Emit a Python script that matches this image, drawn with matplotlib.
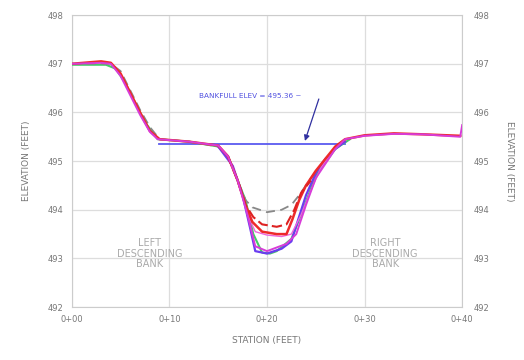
import matplotlib.pyplot as plt

# cross-section surveys (station ft, elevation ft)
magSta = [0, 3, 4, 5, 6, 7, 8, 8.8, 12, 15, 16, 17, 18, 18.8, 20, 22, 23, 24, 25, 26, 27, 28, 30, 33, 36, 39.8, 40]
magEl = [497.0, 497.02, 497.0, 496.75, 496.35, 495.95, 495.6, 495.45, 495.4, 495.32, 495.1, 494.6, 493.9, 493.25,
         493.15, 493.3, 493.5, 494.1, 494.65, 494.95, 495.25, 495.45, 495.52, 495.56, 495.55, 495.5, 495.74]

purSta = [15, 16.5, 17.5, 18.3, 18.8, 20, 21.5, 22.5, 23.2, 24, 25, 26, 27, 28]
purEl = [495.3, 494.9, 494.3, 493.6, 493.15, 493.1, 493.2, 493.35, 493.8, 494.3, 494.75, 495.05, 495.25, 495.4]

redSta = [0, 3, 4, 5, 6, 7, 8, 9, 12, 15, 16, 17, 17.8, 18.5, 19.5, 21, 22, 22.6, 23.3, 24, 25, 26, 27, 28, 30, 33, 36, 39.8]
redEl = [497.0, 497.05, 497.02, 496.8, 496.4, 496.0, 495.62, 495.45, 495.4, 495.32, 495.1, 494.6, 494.1, 493.75,
         493.55, 493.5, 493.5, 493.8, 494.2, 494.5, 494.8, 495.05, 495.3, 495.45, 495.53, 495.57, 495.55, 495.52]

redDashSta = [16, 17, 17.8, 18.6, 19.5, 21, 22, 22.8, 23.5, 24.5]
redDashEl = [495.1, 494.6, 494.1, 493.85, 493.7, 493.65, 493.7, 494.0, 494.35, 494.6]

grySta = [0, 4, 5, 6, 7, 8, 9, 12, 15, 16, 17, 17.8, 18.5, 20, 21.5, 22.5, 23.3, 24.5, 26]
gryEl = [497.0, 497.0, 496.85, 496.45, 496.05, 495.7, 495.45, 495.4, 495.3, 495.1, 494.6, 494.2, 494.05,
         493.95, 494.0, 494.1, 494.3, 494.65, 495.0]

grnSta = [0, 3.5, 4.5, 5.5, 6.5, 7.5, 8.8, 12, 15, 16, 17, 17.8, 18.6, 19.5, 20.3, 21, 22.5, 23.5, 25, 27, 28.5]
grnEl = [496.98, 496.98, 496.9, 496.6, 496.2, 495.8, 495.45, 495.4, 495.3, 495.1, 494.6, 494.2, 493.5,
         493.12, 493.1, 493.15, 493.4, 493.9, 494.7, 495.25, 495.45]

pnkSta = [18, 18.8, 20, 21.5, 22.5, 23.5, 24.5, 25.5, 26.5, 27.5]
pnkEl = [493.9, 493.55, 493.48, 493.45, 493.5, 493.9, 494.4, 494.85, 495.15, 495.35]

bankfull = 495.36
bankSta = [8.9, 28.0]

xTicks = [0, 10, 20, 30, 40]
xLabels = ['0+00', '0+10', '0+20', '0+30', '0+40']
yTicks = [492, 493, 494, 495, 496, 497, 498]

txtGray = '#777777'

fig = plt.figure(figsize=(5.24, 3.6), dpi=100)
ax = fig.add_axes([0.137, 0.147, 0.745, 0.811])

ax.plot(bankSta, [bankfull, bankfull], color='#5a5af0', lw=1.3, zorder=2)
ax.plot(grnSta, grnEl, color='#44cc66', lw=1.5, zorder=3)
ax.plot(grySta, gryEl, color='#888888', lw=1.3, ls=(0, (5, 3)), zorder=3)
ax.plot(purSta, purEl, color='#6a3cf0', lw=1.6, zorder=4)
ax.plot(pnkSta, pnkEl, color='#ee66dd', lw=1.0, zorder=4)
ax.plot(redSta, redEl, color='#ee2a2a', lw=1.8, zorder=4)
ax.plot(redDashSta, redDashEl, color='#dd2222', lw=1.5, ls=(0, (5, 2)), zorder=5)
ax.plot(magSta, magEl, color='#d83cd8', lw=1.4, zorder=5)

ax.annotate('', xy=(23.8, bankfull), xytext=(25.4, 496.33),
            arrowprops=dict(arrowstyle='-|>', color='#3030a0', lw=0.9, mutation_scale=8))
ax.text(18.3, 496.33, 'BANKFULL ELEV = 495.36 ~', color='#5050e0', fontsize=5.2,
        ha='center', va='center')

ax.text(8.0, 493.1, 'LEFT\nDESCENDING\nBANK', color='#aaaaaa', fontsize=7,
        ha='center', va='center', linespacing=1.1)
ax.text(32.1, 493.1, 'RIGHT\nDESCENDING\nBANK', color='#aaaaaa', fontsize=7,
        ha='center', va='center', linespacing=1.1)

ax.set_xlim(0, 40)
ax.set_ylim(492, 498)
ax.set_xticks(xTicks)
ax.set_xticklabels(xLabels)
ax.set_yticks(yTicks)
ax.grid(True, color='#dddddd', lw=0.9)
ax.set_axisbelow(True)
for s in ax.spines.values():
    s.set_color('#cccccc')
ax.tick_params(length=0, labelsize=6, labelcolor=txtGray, pad=6)
ax.set_xlabel('STATION (FEET)', fontsize=6.5, color=txtGray, labelpad=8)
ax.set_ylabel('ELEVATION (FEET)', fontsize=6.5, color=txtGray, labelpad=12)

ax2 = ax.twinx()
ax2.set_ylim(492, 498)
ax2.set_yticks(yTicks)
for s in ax2.spines.values():
    s.set_visible(False)
ax2.tick_params(length=0, labelsize=6, labelcolor=txtGray, pad=8)
ax2.set_ylabel('ELEVATION (FEET)', fontsize=6.5, color=txtGray, rotation=-90, labelpad=18)

fig.savefig('out.png', dpi=100)
